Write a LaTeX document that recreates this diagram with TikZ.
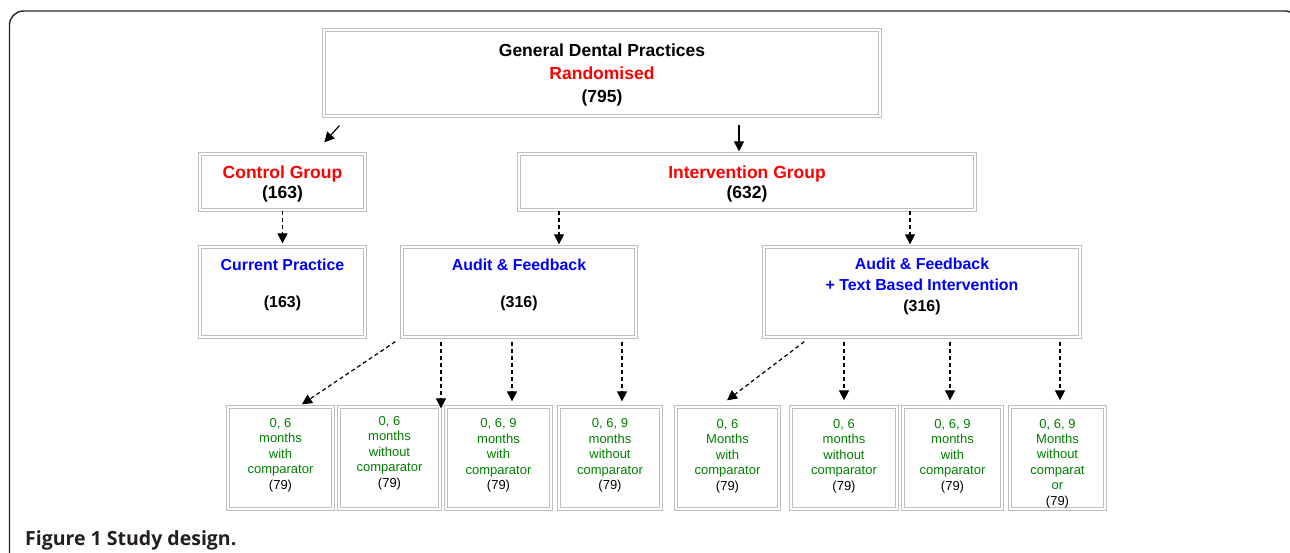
\documentclass[tikz,border=0pt]{standalone}
\usepackage{fontspec}
\setmainfont{Liberation Sans}
\newfontfamily\capfont{Open Sans}
\usetikzlibrary{arrows.meta,calc}
\definecolor{grn}{RGB}{0,128,0}
\definecolor{blu}{RGB}{0,0,255}
\definecolor{rd}{RGB}{255,0,0}
\definecolor{capc}{RGB}{35,31,32}
\tikzset{
  dbx/.style={draw=gray!50, double=white, double distance=1.4pt, line width=1.3pt,
    rectangle, inner sep=0pt},
  arr/.style={line width=1.2pt, -{Triangle[length=10pt,width=10pt]}},
  darr/.style={arr, dash pattern=on 4pt off 3pt},
  boldtxt/.style={font=\bfseries\fontsize{17.5}{19.5}\selectfont, align=center, anchor=base, inner sep=0pt},
  bluetxt/.style={font=\bfseries\fontsize{15.9}{21}\selectfont, text=blu, align=center, anchor=base, inner sep=0pt},
  grntxt/.style={font=\fontsize{13}{15.4}\selectfont, text=grn, align=center, anchor=base, inner sep=0pt},
}
\newcommand\dbox[5]{%
  \node[dbx, minimum width={#4pt-#2pt-4pt}, minimum height={#5pt-#3pt-4pt}]
    (#1) at ({(#2+#4)/2},{(#3+#5)/2}) {};}
\begin{document}
\begin{tikzpicture}[x=1pt,y=-1pt]
\useasboundingbox (0,0) rectangle (1290,553);
\clip (0,0) rectangle (1290,553);
\fill[white] (0,0) rectangle (1290,553);
% frame
\draw[line width=1.4pt, draw=black!85, rounded corners=14pt] (9.5,700) |- (1299,11) -- (1299,700);
% boxes
\dbox{top}{322}{28}{882}{118}
\dbox{ctrl}{198}{152}{367}{212}
\dbox{intv}{517}{152}{977}{212}
\dbox{cur}{198}{245}{367}{339}
\dbox{af}{400}{245}{638}{339}
\dbox{aft}{762}{245}{1082}{339}
\dbox{b1}{226}{405}{335}{511}
\dbox{b2}{337}{405}{442}{511}
\dbox{b3}{444}{405}{553}{511}
\dbox{b4}{557}{405}{663}{511}
\dbox{b5}{674}{405}{781}{511}
\dbox{b6}{789}{405}{899}{511}
\dbox{b7}{901}{405}{1004}{511}
\dbox{b8}{1008}{405}{1107}{511}
% texts (anchor = baseline of last line)
\node[boldtxt, font=\bfseries\fontsize{17.5}{23.2}\selectfont] (ttop) at (602,102.5)
  {General Dental Practices\\ \textcolor{rd}{Randomised}\\ (795)};
\node[boldtxt] (tctrl) at (282.5,198.5) {\textcolor{rd}{Control Group}\\ (163)};
\node[boldtxt] (tintv) at (747,198.5) {\textcolor{rd}{Intervention Group}\\ (632)};
\node[bluetxt] (tcur) at (282.5,307.5) {Current Practice\\[16pt] \textcolor{black}{(163)}};
\node[bluetxt] (taf) at (519,307.5) {Audit \& Feedback\\[16pt] \textcolor{black}{(316)}};
\node[bluetxt] (taft) at (922,312) {Audit \& Feedback\\ + Text Based Intervention\\ \textcolor{black}{(316)}};
\node[grntxt] (tb1) at (280.5,489) {0, 6\\ months\\ with\\ comparator\\ \textcolor{black}{(79)}};
\node[grntxt] (tb2) at (389.5,487) {0, 6\\ months\\ without\\ comparator\\ \textcolor{black}{(79)}};
\node[grntxt] (tb3) at (498.5,489.5) {0, 6, 9\\ months\\ with\\ comparator\\ \textcolor{black}{(79)}};
\node[grntxt] (tb4) at (610,489.5) {0, 6, 9\\ months\\ without\\ comparator\\ \textcolor{black}{(79)}};
\node[grntxt] (tb5) at (727.5,490) {0, 6\\ Months\\ with\\ comparator\\ \textcolor{black}{(79)}};
\node[grntxt] (tb6) at (844,490) {0, 6\\ months\\ without\\ comparator\\ \textcolor{black}{(79)}};
\node[grntxt] (tb7) at (952.5,490) {0, 6, 9\\ months\\ with\\ comparator\\ \textcolor{black}{(79)}};
\node[grntxt] (tb8) at (1057.5,505) {0, 6, 9\\ Months\\ without\\ comparat\\ or\\ \textcolor{black}{(79)}};
% arrows
\coordinate (s2) at ($(af.south)+(-78,4)$);
\draw[arr] ($(top.south west)+(16,9)$) -- ($(ctrl.north west)+(125,-11)$);
\draw[arr] ($(top.south)+(137,8)$) -- ($(intv.north)+(-8,-2)$);
\draw[darr] (ctrl.south) -- ($(cur.north)+(0,-3)$);
\draw[darr] ($(intv.south)+(-188,0)$) -- ($(af.north)+(40,-2)$);
\draw[darr] ($(intv.south)+(163,0)$) -- ($(aft.north)+(-12,-2)$);
\draw[darr] ($(af.south west)+(-6,4)$) -- ($(b1.north)+(21.5,-2)$);
\draw[darr, shorten >=-2pt] (s2) -- (s2 |- b2.north);
\draw[darr] ($(af.south)+(-7,4)$) -- ($(b3.north)+(13.5,-5)$);
\draw[darr] ($(af.south)+(103,4)$) -- ($(b4.north)+(12,-5)$);
\draw[darr] ($(aft.south west)+(41,4)$) -- ($(b5.north)+(-0.5,-6)$);
\draw[darr] ($(aft.south)+(-78,4)$) -- ($(b6.north)+(0,-6)$);
\draw[darr] ($(aft.south)+(28,4)$) -- ($(b7.north)+(-2.5,-6)$);
\draw[darr] ($(aft.south)+(138,4)$) -- ($(b8.north)+(2.5,-6)$);
% caption
\node[anchor=base west, inner sep=0pt, text=capc, font=\capfont\bfseries\fontsize{19.5}{22}\selectfont] (cap) at (25,545) {Figure 1 Study design.};
\end{tikzpicture}
\end{document}
